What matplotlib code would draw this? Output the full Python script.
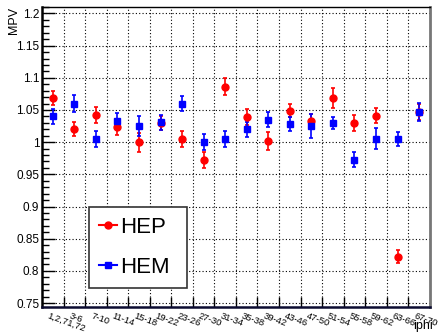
import matplotlib.pyplot as plt
import numpy as np
from matplotlib.lines import Line2D
from matplotlib.ticker import MultipleLocator

plt.rcParams['font.family'] = ['Liberation Sans', 'DejaVu Sans']

# iphi bins
bin_labels = ["1,2,71,72", "3-6", "7-10", "11-14", "15-18", "19-22", "23-26",
              "27-30", "31-34", "35-38", "39-42", "43-46", "47-50", "51-54",
              "55-58", "59-62", "63-66", "67-70"]

hep_mpv = [1.068, 1.020, 1.042, 1.023, 0.9995, 1.030, 1.005, 0.972, 1.086,
           1.039, 1.0016, 1.049, 1.0326, 1.068, 1.030, 1.0414, 0.822, 1.047]
hep_err = [0.011, 0.011, 0.012, 0.012, 0.014, 0.011, 0.012, 0.012, 0.013,
           0.013, 0.0137, 0.010, 0.0116, 0.0155, 0.013, 0.011, 0.0098, 0.013]

hem_mpv = [1.040, 1.060, 1.0047, 1.0326, 1.0248, 1.0306, 1.060, 1.0005, 1.0047,
           1.0202, 1.0352, 1.0284, 1.025, 1.0295, 0.973, 1.0057, 1.005, 1.047]
hem_err = [0.011, 0.0137, 0.012, 0.013, 0.0155, 0.0116, 0.012, 0.012, 0.012,
           0.0116, 0.012, 0.011, 0.019, 0.0098, 0.011, 0.016, 0.011, 0.0135]

fig = plt.figure(figsize=(4.4, 3.34), dpi=100)
ax = fig.add_axes([0.0955, 0.081, 0.8815, 0.898])

x = np.arange(len(bin_labels)) + 0.5
ax.errorbar(x, hep_mpv, yerr=hep_err, fmt='o', color='#ff0000', ms=5,
            elinewidth=1.2, capsize=1.5, capthick=1.2, zorder=3)
ax.errorbar(x, hem_mpv, yerr=hem_err, fmt='s', color='#0000ff', ms=5,
            elinewidth=1.2, capsize=1.5, capthick=1.2, zorder=3)

ax.set_xlim(0, len(bin_labels))
ax.set_ylim(0.744, 1.21)

# y axis: major every 0.05, minor every 0.01, ticks inside
ax.yaxis.set_minor_locator(MultipleLocator(0.01))
ax.set_yticks(np.arange(0.75, 1.201, 0.05))
ax.set_yticklabels(["0.75", "0.8", "0.85", "0.9", "0.95", "1", "1.05",
                    "1.1", "1.15", "1.2"], fontsize=8.5)
ax.tick_params(axis='y', which='major', direction='in', length=9, width=1,
               pad=2)
ax.tick_params(axis='y', which='minor', direction='in', length=5, width=1)

# x axis: ticks at bin edges, labels at bin centres (rotated, ROOT style)
ax.set_xticks(np.arange(1, len(bin_labels)))
ax.set_xticklabels([])
ax.tick_params(axis='x', which='major', direction='in', length=7, width=1)
for xi, lbl in zip(x, bin_labels):
    ax.annotate(lbl, xy=(xi, 0), xycoords=('data', 'axes fraction'),
                xytext=(-2.5, -3), textcoords='offset points',
                fontsize=6.8, rotation=-20, rotation_mode='anchor',
                ha='left', va='top')

ax.grid(True, which='major', linestyle=(0, (1, 2)), color='black',
        linewidth=0.8)

ax.spines['left'].set_linewidth(1.8)
ax.spines['bottom'].set_linewidth(1.8)
ax.spines['bottom'].set_color('#0a0a30')
ax.spines['right'].set_linewidth(2.0)
ax.spines['right'].set_color('#777777')
ax.spines['top'].set_linewidth(1.0)

fig.text(0.018, 0.978, "MPV", rotation=90, ha='left', va='top', fontsize=9)
fig.text(0.983, 0.005, "iphi", ha='right', va='bottom', fontsize=9)

handles = [Line2D([], [], color='#ff0000', marker='o', ms=5, lw=1.5),
           Line2D([], [], color='#0000ff', marker='s', ms=5, lw=1.5)]
leg = ax.legend(handles, ["HEP", "HEM"], loc='lower left',
                bbox_to_anchor=(0.121, 0.063, 0.253, 0.27), mode='expand',
                fontsize=16, handlelength=0.8,
                handletextpad=0.15, labelspacing=0.85, borderpad=0.45,
                borderaxespad=0, fancybox=False, framealpha=1,
                edgecolor='#333333')
leg.get_frame().set_linewidth(1.2)

fig.savefig("out.png", dpi=100)
